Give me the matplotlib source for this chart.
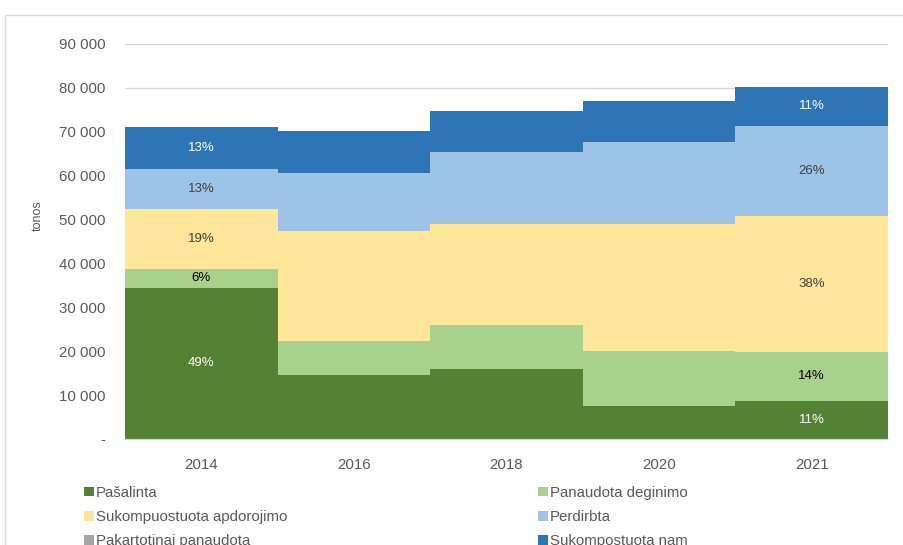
import matplotlib.pyplot as plt
from matplotlib.patches import Rectangle, Patch
import numpy as np

plt.rcParams['font.family'] = ['Liberation Sans', 'DejaVu Sans']

# values in tonnes
years = ['2014', '2016', '2018', '2020', '2021']
pasalinta = [34470, 14510, 16020, 7590, 8660]
deginimo = [4330, 7820, 9955, 12390, 11230]
apdorojimo = [13680, 25060, 23015, 28940, 30850]
perdirbta = [9110, 13220, 16330, 18750, 20650]
pakartotinai = [0, 0, 0, 0, 0]
nam = [9430, 9500, 9350, 9340, 8810]

series_names = ['Pašalinta', 'Panaudota deginimo', 'Sukompuostuota apdorojimo',
                'Perdirbta', 'Pakartotinai panaudota', 'Sukompostuota nam']
colors = ['#548235', '#A9D18E', '#FFE699', '#9DC3E6', '#A5A5A5', '#2E75B6']
label_colors = ['white', 'black', '#404040', '#404040', '#404040', 'white']

# percentage labels shown only for first and last year
pct_2014 = ['49%', '6%', '19%', '13%', '', '13%']
pct_2021 = ['11%', '14%', '38%', '26%', '', '11%']

fig = plt.figure(figsize=(9.04, 5.45), dpi=100)
fig.patches.append(Rectangle((5 / 904, -0.1), 1.2, 1 - 15 / 545 + 0.1,
                             transform=fig.transFigure, fill=False,
                             edgecolor='#d9d9d9', linewidth=1.0))
ax = fig.add_axes([125 / 904, 1 - 439 / 545, (888 - 125) / 904, (439 - 44) / 545])

x = np.arange(len(years))
data = [pasalinta, deginimo, apdorojimo, perdirbta, pakartotinai, nam]
bottom = np.zeros(len(years))
for i, vals in enumerate(data):
    vals = np.array(vals, dtype=float)
    ax.bar(x, vals, width=1.0, bottom=bottom, color=colors[i], linewidth=0, zorder=2)
    for j, pcts in ((0, pct_2014), (len(years) - 1, pct_2021)):
        if pcts[i]:
            ax.text(x[j], bottom[j] + vals[j] / 2, pcts[i], ha='center', va='center',
                    fontsize=9.5, color=label_colors[i], zorder=3)
    bottom += vals

ax.set_xlim(-0.5, len(years) - 0.5)
ax.set_ylim(0, 90000)
ax.set_yticks(np.arange(0, 90001, 10000))
ax.set_yticklabels(['-'] + ['{:,}'.format(v).replace(',', ' ') for v in range(10000, 90001, 10000)])
ax.set_xticks(x)
ax.set_xticklabels(years)
ax.yaxis.grid(True, color='#d9d9d9', linewidth=1.0, zorder=0)
ax.set_axisbelow(True)
for s in ['top', 'right', 'left']:
    ax.spines[s].set_visible(False)
ax.spines['bottom'].set_color('#d9d9d9')
ax.tick_params(axis='both', length=0, labelsize=10.8, colors='#595959')
ax.tick_params(axis='y', pad=14)
ax.tick_params(axis='x', pad=14)
ax.set_ylabel('tonos', fontsize=9, color='#595959')
ax.yaxis.set_label_coords(-0.106, 0.565)

handles = [Patch(facecolor=c, edgecolor='none') for c in colors]
left_idx = [0, 2, 4]
right_idx = [1, 3, 5]
for idx, xpos in ((left_idx, 84 / 904), (right_idx, 538 / 904)):
    fig.legend([handles[k] for k in idx], [series_names[k] for k in idx],
               loc='upper left', bbox_to_anchor=(xpos, 1 - 486 / 545),
               frameon=False, fontsize=10.8, labelcolor='#595959',
               handlelength=0.66, handleheight=0.6, handletextpad=0.12,
               labelspacing=0.68, borderaxespad=0, borderpad=0)

fig.savefig('out.png', dpi=100)
